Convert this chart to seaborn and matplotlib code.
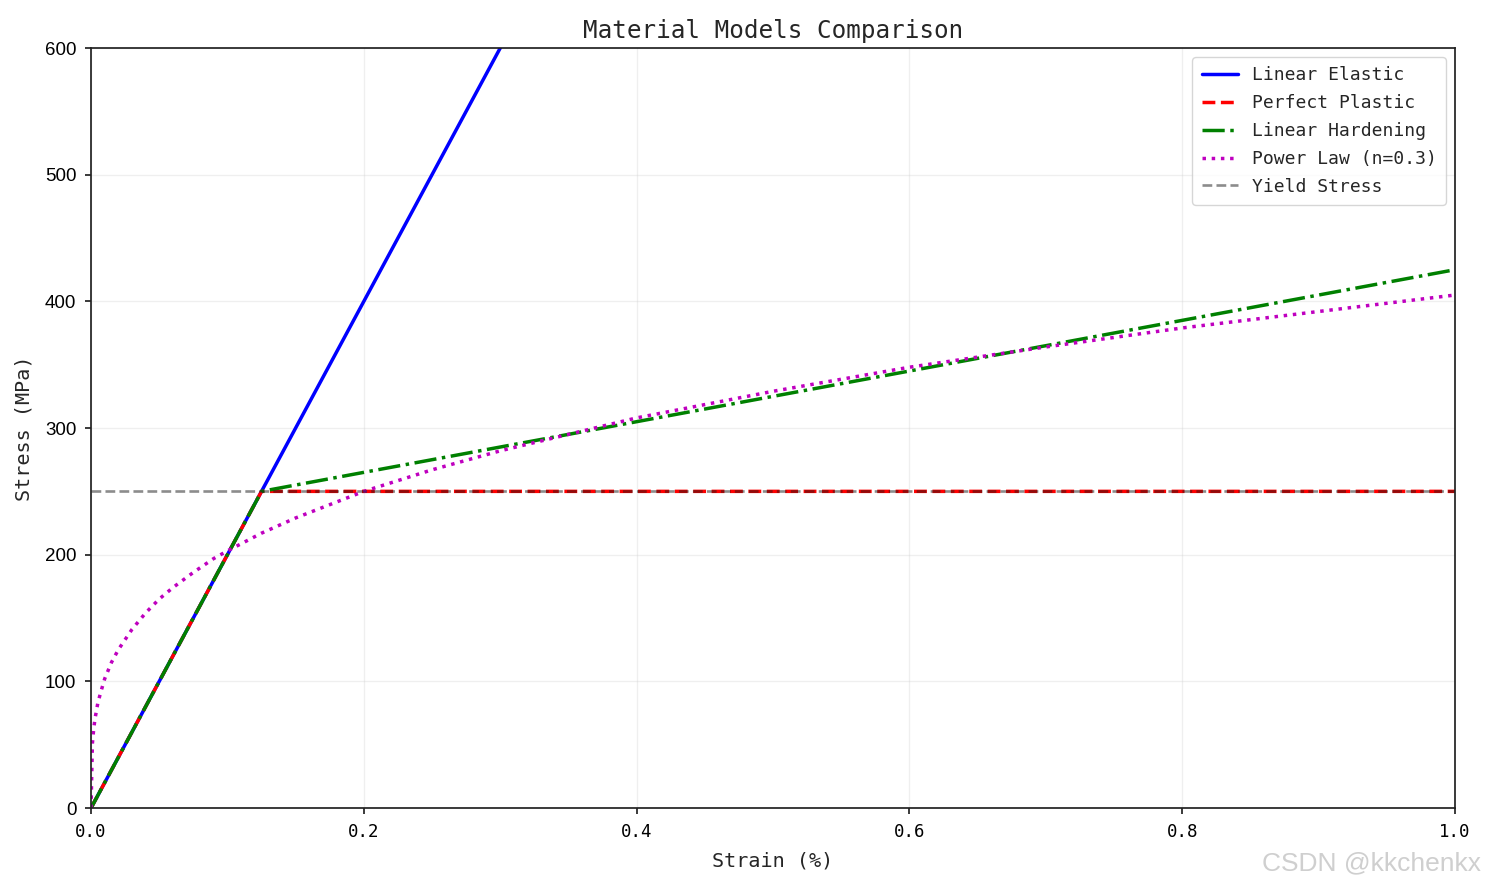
import numpy as np
import pandas as pd
import matplotlib
matplotlib.use("Agg")
import matplotlib.pyplot as plt
import seaborn as sns

# values (strain, stress in MPa)
elastic_strain = [0.0, 1.0]
elastic_stress = [0.0, 2000.0]

plastic_strain = [0.0, 0.125, 1.0]
plastic_stress = [0.0, 250.0, 250.0]

hardening_strain = [0.0, 0.125, 1.0]
hardening_stress = [0.0, 250.0, 425.0]

power_strain = [0.0, 0.001, 0.002, 0.003, 0.005, 0.007, 0.01, 0.015, 0.02, 0.03,
                0.04, 0.05, 0.06, 0.075, 0.09, 0.1, 0.125, 0.15, 0.2, 0.25,
                0.3, 0.4, 0.5, 0.6, 0.7, 0.8, 0.9, 1.0]
power_stress = [0, 51, 63, 71, 83, 91, 102, 115, 125, 141,
                154, 165, 174, 186, 197, 203, 217, 229, 250, 267,
                282, 308, 329, 348, 364, 379, 392, 405]

yield_stress = 250

sns.set_theme(style="ticks")
plt.rcParams['font.family'] = ['DejaVu Sans Mono', 'DejaVu Sans']

fig = plt.figure(figsize=(14.85, 8.86), dpi=100)
ax = fig.add_axes([0.0613, 0.088, 0.9185, 0.8578])

sns.lineplot(x=elastic_strain, y=elastic_stress, ax=ax, color='#0000ff', linewidth=2.5,
             linestyle='-', label='Linear Elastic')
sns.lineplot(x=plastic_strain, y=plastic_stress, ax=ax, color='#ff0000', linewidth=2.5,
             linestyle='--', label='Perfect Plastic')
sns.lineplot(x=hardening_strain, y=hardening_stress, ax=ax, color='#008000', linewidth=2.5,
             linestyle='-.', label='Linear Hardening')
sns.lineplot(x=power_strain, y=power_stress, ax=ax, color='#bf00bf', linewidth=2.5,
             linestyle=':', label='Power Law (n=0.3)')
ax.axhline(yield_stress, color='k', linestyle='--', linewidth=1.9, alpha=0.5,
           label='Yield Stress')

ax.set_xlim(0, 1.0)
ax.set_ylim(0, 600)
ax.set_xticks([0.0, 0.2, 0.4, 0.6, 0.8, 1.0])
ax.set_yticks([0, 100, 200, 300, 400, 500, 600])
ax.grid(True, alpha=0.3)
for s in ax.spines.values():
    s.set_color('#222222')
    s.set_linewidth(1.25)
ax.tick_params(axis='both', colors='#222222', labelcolor='black', width=1.25,
               length=4.5, direction='out', pad=6)
ax.tick_params(axis='x', labelsize=12.5)
ax.tick_params(axis='y', labelsize=13.5)
for lab in ax.get_yticklabels():
    lab.set_family('Liberation Sans')

ax.set_xlabel('Strain (%)', fontsize=14.5, labelpad=8)
ax.set_ylabel('Stress (MPa)', fontsize=14.5, labelpad=8)
ax.set_title('Material Models Comparison', fontsize=17.5, pad=7)

leg = ax.legend(loc='upper right', fontsize=13, frameon=True, framealpha=0.8,
                edgecolor='#cccccc', fancybox=True, borderpad=0.5, labelspacing=0.55)

fig.text(0.997, 0.012, 'CSDN @kkchenkx', ha='right', va='bottom', fontsize=19,
         color='#cfcfcf', family='Liberation Sans')

fig.savefig('out.png', dpi=100)
